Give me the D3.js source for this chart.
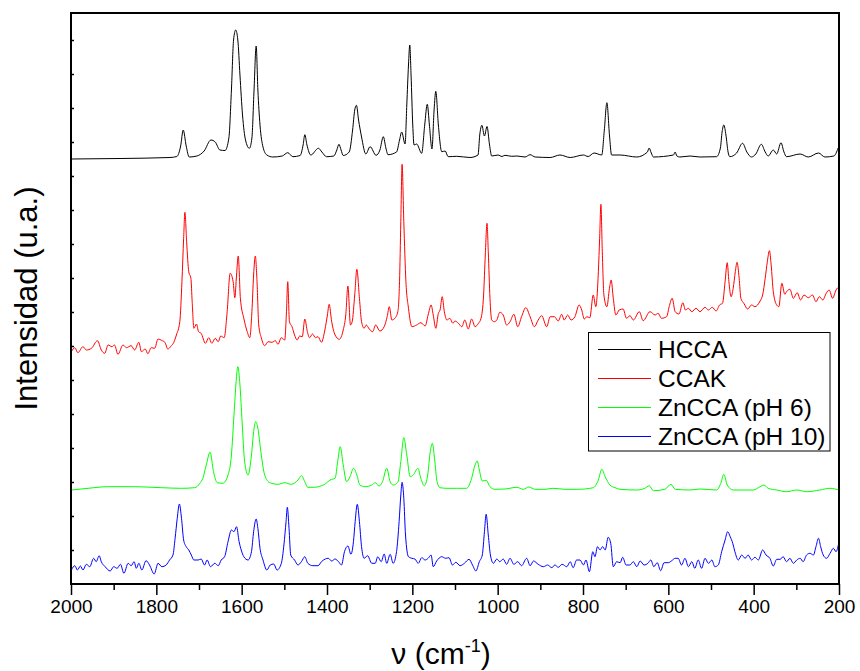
<!DOCTYPE html>
<html><head><meta charset="utf-8">
<script src="https://cdn.jsdelivr.net/npm/d3@7"></script>
<style>body{margin:0;background:#fff}</style>
</head><body>
<svg id="chart" width="860" height="671"></svg>
<script>
// ---- tick labels ----
const xTickLabels = [2000,1800,1600,1400,1200,1000,800,600,400,200];
const xMinorTicks = [1900,1700,1500,1300,1100,900,700,500,300];
const yTicks = [34,68,102,136,170,204,238,272,306,340,374,408,442,476,510,544];

// ---- series ----
const seriesNames = ["HCCA","CCAK","ZnCCA (pH 6)","ZnCCA (pH 10)"];
const seriesColors = ["#000000","#ff0000","#00ff00","#0000ff"];

// [wavenumber cm-1, intensity a.u. (offset)]
const hcca = [[2000,425],[1885,425.5],[1768,426.5],[1752,427.5],[1743,438],[1737,454],[1730,438],[1723,427],[1705,428],[1688,433],[1672,444],[1662,442],[1651,434],[1639,433.5],[1630,446],[1624,494],[1619,544],[1614,554],[1609,544],[1604,509],[1598,469],[1591,444],[1582,435.7],[1576,446],[1571,494],[1566,538],[1562,494],[1557,459],[1550,437],[1541,429],[1527,427],[1505,428],[1492,431.3],[1480,427.3],[1463,428.5],[1456,439],[1452,449.3],[1447,439],[1438,429],[1420,435.7],[1412,432],[1401,427.3],[1384,428],[1377,434],[1372,439.7],[1367,434],[1362,428.5],[1348,432],[1340,454],[1335,474],[1331,478.7],[1326,464],[1319,447],[1309,430],[1299,437.3],[1285,428.7],[1276,434],[1268,447.3],[1262,436],[1257,429.3],[1237,432],[1230,444],[1225,452],[1217,440],[1213,479],[1209,519],[1206,539],[1203,509],[1199,459],[1196,439],[1190,440],[1178,430.7],[1171,459],[1165,479.7],[1160,459],[1154,435],[1149,474],[1145,492.7],[1139,459],[1131,432.3],[1123,433],[1116,427.3],[1096,427.7],[1065,426.5],[1046,429],[1042,449],[1037,458.7],[1031,448],[1025,457.5],[1019,439],[1014,428],[999,429],[990,427.5],[983,428.7],[967,427.7],[955,428],[936,427],[924,429.3],[912,427],[877,426.5],[854,429],[830,426.5],[799,429],[788,427.5],[774,431],[756,429],[750,454],[744,481.3],[738,449],[733,429],[713,429],[674,427],[649,432],[645,436],[640,431],[635,427],[588,429],[584,432],[580,428],[573,427],[549,428],[526,427],[487,427.3],[478,436],[474,452],[470,459],[465,449],[460,432],[456,427.3],[440,431],[426,440.7],[416,432],[405,427],[395,430],[382,439.7],[373,432],[366,428],[354,434],[346,430],[336,441.3],[329,432],[323,427.3],[291,430],[272,427],[248,431],[233,427],[212,428],[202,436]];

const ccak = [[1999,232.3],[1991,236.3],[1984,231.3],[1972,237.3],[1964,234],[1952,235.7],[1938,243.3],[1929,234],[1921,230.7],[1913,239],[1904,237.3],[1898,239],[1890,229.7],[1878,239],[1870,236.3],[1859,238.3],[1851,234],[1841,241.7],[1835,232.3],[1826,235],[1820,230.3],[1812,236.3],[1804,235.7],[1796,245],[1788,243.7],[1780,241.7],[1773,235],[1766,237.7],[1759,241.7],[1753,249],[1745,262.3],[1740,302.3],[1736,345.7],[1733,371.7],[1729,342.3],[1724,312.3],[1719,305.7],[1716,282.3],[1712,255.7],[1706,260],[1701,252.3],[1695,250.7],[1685,240.7],[1677,246.3],[1670,240.7],[1662,245.7],[1655,242.3],[1649,248],[1641,246.3],[1634,272.3],[1627,310.7],[1620,302.3],[1616,286.3],[1612,309],[1608,328],[1603,285.7],[1595,265.7],[1587,252.3],[1581,246.3],[1576,272.3],[1572,309],[1568,328],[1564,302.3],[1560,259],[1554,246.3],[1546,238.3],[1538,242.3],[1529,241.7],[1521,243.3],[1515,239.7],[1507,246.3],[1499,244],[1495,272.3],[1492,302.3],[1488,262.3],[1482,257.3],[1476,249],[1470,244],[1464,248],[1458,247.3],[1452,265],[1446,252.3],[1441,246.3],[1434,250],[1427,246.3],[1421,247.3],[1413,241.7],[1405,254],[1399,269],[1395,279.7],[1389,262.3],[1381,249],[1371,244.7],[1362,254],[1356,269],[1351,298],[1345,259],[1341,262.3],[1335,289],[1330,314.7],[1324,285.7],[1319,262.3],[1313,255.7],[1308,259],[1301,255],[1293,252.3],[1286,259],[1276,253],[1266,257.3],[1259,267.3],[1254,277.3],[1248,264],[1241,265.7],[1234,272.3],[1230,302.3],[1227,362.3],[1224,419.7],[1220,362.3],[1215,302.3],[1209,275.7],[1201,257.3],[1190,259],[1180,261.3],[1170,258],[1163,269],[1156,279],[1151,269],[1145,255.7],[1139,270.7],[1135,274],[1130,287.3],[1125,272.3],[1119,264],[1112,265.7],[1105,260.7],[1100,263],[1092,260.7],[1084,257.3],[1077,264],[1069,255],[1061,265],[1053,257.3],[1045,260.7],[1039,265.7],[1033,289],[1029,329],[1025,360.7],[1022,332.3],[1018,285.7],[1014,264],[1008,262.3],[1002,264],[995,271.7],[987,269],[979,259],[971,262.3],[962,269.7],[953,257.3],[944,267.3],[934,276.3],[924,267.3],[914,257.3],[905,264],[897,268.3],[885,257.3],[877,267.3],[867,267.3],[858,263],[850,269.7],[844,264],[836,269],[828,264],[819,267.3],[809,279],[803,274],[797,265],[791,267.3],[784,266.3],[776,289],[770,277.3],[764,312.3],[761,345.7],[758,379.7],[755,335.7],[751,289],[744,277.3],[738,295.7],[734,304],[729,285.7],[723,269],[715,274],[706,275],[698,265.7],[690,268.3],[682,264],[668,272.3],[659,263.3],[643,272.3],[631,269],[624,270.7],[616,265.7],[604,267.3],[598,277.3],[591,285.7],[584,272.3],[575,270],[566,281.3],[560,274],[553,275.7],[545,272.3],[535,275.7],[526,272.3],[514,276.7],[506,274],[497,276.7],[488,273],[480,279],[473,280.7],[467,302.3],[462,321.3],[458,302.3],[453,287.3],[448,295.7],[443,312.3],[439,321.7],[434,305.7],[430,285.7],[423,280.7],[414,275],[405,279],[397,277.3],[385,283],[379,289],[373,305.7],[368,322.3],[363,333.3],[359,319],[354,292.3],[346,279],[341,277.3],[334,300.7],[327,289.7],[323,292.3],[315,294.7],[307,285.7],[298,291.3],[290,284],[282,289],[272,286.3],[262,289],[254,282.3],[246,287.3],[238,284],[230,290.7],[223,294],[215,285.7],[207,294],[200,297.3]];

const zncca6 = [[1999,94],[1960,95.7],[1913,97.3],[1851,97.3],[1788,96.3],[1741,95.7],[1710,96.3],[1698,100.7],[1691,105.7],[1683,119],[1674,131.7],[1666,112.3],[1657,101.3],[1644,100.7],[1632,109],[1624,129],[1618,169],[1613,202.3],[1609,217.3],[1604,199],[1599,162.3],[1593,122.3],[1585,109],[1577,129],[1572,152.3],[1567,162.3],[1562,155.7],[1555,132.3],[1546,109],[1534,101.3],[1515,99.7],[1499,101.3],[1484,99.7],[1468,104],[1460,108.3],[1452,102.3],[1445,96.7],[1429,96.7],[1413,98.3],[1405,99.7],[1393,104],[1381,105.7],[1375,122.3],[1369,137.3],[1362,119],[1354,102.3],[1346,107.3],[1338,115.7],[1330,109],[1323,99],[1311,97.3],[1295,99],[1287,101.3],[1278,98],[1270,102.3],[1260,115.7],[1252,102.3],[1245,99],[1234,101.7],[1227,122.3],[1220,146.3],[1213,129],[1205,107.3],[1198,109],[1187,115.7],[1180,105.7],[1172,98.3],[1164,109],[1158,132.3],[1153,140.7],[1148,125.7],[1142,102.3],[1135,96.3],[1119,95.7],[1096,95.7],[1073,95.7],[1061,105.7],[1053,119],[1048,123],[1043,114],[1036,103],[1027,103.7],[1018,97.3],[1006,94.7],[983,95],[955,96.7],[940,94.7],[927,97],[912,94.7],[889,94.7],[870,95.7],[842,94.7],[811,94.7],[776,96.3],[764,104],[756,114.7],[748,107.3],[737,99],[725,96.3],[713,94.7],[674,94],[655,95.7],[645,98.3],[635,93.3],[608,94.7],[594,99.7],[584,94.7],[549,94],[526,95],[487,94],[477,100.7],[470,109.7],[462,99],[448,94],[401,94],[385,97.3],[376,99],[366,95.7],[346,94],[323,92.3],[299,94],[276,92.3],[245,94],[221,95.7],[200,94]];

const zncca10 = [[1999,14],[1991,18.3],[1985,14],[1978,18],[1972,14],[1964,19.7],[1956,17.3],[1947,25.7],[1941,22.3],[1934,28.3],[1929,22.3],[1920,17.3],[1908,13],[1900,17.3],[1892,15.7],[1884,19.7],[1876,10.7],[1866,20.7],[1859,18.3],[1852,22.3],[1847,15.7],[1841,20.7],[1834,14],[1824,23.3],[1816,19],[1805,10],[1796,20.7],[1787,17.3],[1777,19],[1769,24],[1761,29],[1756,45.7],[1751,65.7],[1746,80],[1741,65.7],[1736,44],[1730,37.3],[1724,34],[1718,29],[1712,24],[1702,24],[1695,25],[1687,19],[1681,24],[1673,17.3],[1663,20.7],[1655,18.3],[1648,24],[1640,27.3],[1632,42.3],[1624,54],[1618,52.3],[1612,57.3],[1606,42.3],[1601,34],[1595,27.3],[1585,24],[1577,32.3],[1572,52.3],[1566,65],[1562,55.7],[1557,35.7],[1550,24],[1541,14],[1533,19],[1525,20],[1517,14],[1507,20.7],[1501,39],[1496,62.3],[1493,76.7],[1489,55.7],[1485,29],[1476,24],[1468,19],[1460,22.3],[1452,27.3],[1445,20.7],[1433,18.3],[1421,18.3],[1413,22.3],[1404,25],[1397,25.7],[1389,23],[1381,25],[1373,22.3],[1366,19],[1359,32.3],[1351,38],[1344,29.7],[1338,42.3],[1334,62.3],[1329,79.7],[1324,62.3],[1319,37.3],[1313,25.7],[1305,28.3],[1295,20.7],[1287,20.7],[1281,27.3],[1273,22.3],[1266,30],[1260,20.7],[1252,29.7],[1245,20.7],[1237,32.3],[1231,62.3],[1227,89],[1224,101.7],[1220,85.7],[1216,49],[1209,27.3],[1201,25.7],[1194,25],[1186,20.7],[1178,26.3],[1170,24],[1163,25.7],[1156,29],[1151,17.3],[1143,23],[1131,27.3],[1122,25.7],[1114,26.3],[1106,19],[1098,21.7],[1088,18.3],[1078,20.7],[1067,24.7],[1059,19],[1051,13],[1043,22.3],[1036,29],[1031,52.3],[1027,69.7],[1022,49],[1017,29],[1010,20.7],[1002,25],[995,22.3],[987,25],[979,19.7],[971,25.7],[962,19.7],[953,22.3],[944,18.3],[932,25.7],[924,18.3],[916,23],[905,19.7],[893,17.3],[883,19],[873,16.3],[866,19],[858,16.7],[849,19.7],[838,17.3],[830,22.3],[823,16.3],[815,24],[807,24],[799,19],[793,24],[785,12.3],[777,32.3],[772,27.3],[766,37.3],[760,34],[754,37.3],[748,34],[741,46.7],[735,40.7],[729,17.3],[721,22.3],[713,21.3],[707,26.7],[699,19],[690,19],[682,22.3],[674,17.3],[666,23],[657,19],[648,20.7],[641,24],[634,17.3],[626,21.3],[618,13.3],[610,21.3],[600,21.3],[592,23.3],[584,25.7],[577,25.7],[569,19],[561,25.7],[553,17.3],[545,22.3],[538,15.7],[530,24],[522,15.7],[514,25.7],[506,20.7],[498,24],[491,17.3],[483,19],[475,32.3],[467,44],[461,52.3],[455,47.3],[449,40.7],[444,32.3],[436,24],[428,29],[420,25.7],[413,29],[405,24],[397,26.7],[389,24],[379,34],[371,29],[362,25.7],[354,18],[346,24.7],[338,24.7],[331,27.3],[323,22.3],[315,25.7],[307,20.7],[299,24],[291,25.7],[284,22.3],[276,29],[268,30.7],[260,29],[254,37.3],[248,45.7],[243,37.3],[237,29],[229,25.7],[221,30.7],[213,35.7],[207,32.3],[200,42.3]];

const seriesData = [hcca, ccak, zncca6, zncca10];

// ---- layout ----
const L = 71, R = 839, T = 13, B = 584;
const FONT = "'Liberation Sans', Arial, Helvetica, sans-serif";
const svg = d3.select("#chart");

const x = d3.scaleLinear().domain([2000, 200]).range([L, R]);
const y = d3.scaleLinear().domain([0, 571]).range([B, T]);

svg.append("defs").append("clipPath").attr("id","clip")
  .append("rect").attr("x",L).attr("y",T).attr("width",R-L).attr("height",B-T);

const line = d3.line().x(d => x(d[0])).y(d => y(d[1])).curve(d3.curveMonotoneX);

const g = svg.append("g").attr("clip-path","url(#clip)");
seriesData.forEach((s,i) => {
  g.append("path").datum(s).attr("d", line)
    .attr("fill","none").attr("stroke", seriesColors[i]).attr("stroke-width", 1);
});

// x axis major
const xAxis = svg.append("g").attr("transform",`translate(0,${B})`)
  .call(d3.axisBottom(x).tickValues(xTickLabels).tickSize(11).tickPadding(5).tickFormat(d3.format("d")));
xAxis.select(".domain").remove();
xAxis.selectAll("line").attr("stroke","#000").attr("stroke-width",1.5);
xAxis.selectAll("text").attr("font-family",FONT).attr("font-size",19).attr("fill","#000");

const xMinor = svg.append("g").attr("transform",`translate(0,${B})`)
  .call(d3.axisBottom(x).tickValues(xMinorTicks).tickSize(6).tickFormat(""));
xMinor.select(".domain").remove();
xMinor.selectAll("line").attr("stroke","#000").attr("stroke-width",1.5);

// y axis (inward ticks, no labels)
const yAxis = svg.append("g").attr("transform",`translate(${L},0)`)
  .call(d3.axisRight(y).tickValues(yTicks).tickSize(3).tickFormat(""));
yAxis.select(".domain").remove();
yAxis.selectAll("line").attr("stroke","#000").attr("stroke-width",1.5);

// frame
svg.append("rect").attr("x",L).attr("y",T).attr("width",R-L).attr("height",B-T)
  .attr("fill","none").attr("stroke","#000").attr("stroke-width",2);

// axis titles
const xt = svg.append("text").attr("x",441).attr("y",664).attr("text-anchor","middle")
  .attr("font-family",FONT).attr("font-size",30).attr("fill","#000");
xt.append("tspan").text("\u03BD (cm");
xt.append("tspan").attr("font-size",18).attr("dy",-12).text("-1");
xt.append("tspan").attr("dy",12).text(")");

svg.append("text").attr("transform",`translate(37,${(T+B)/2}) rotate(-90)`)
  .attr("text-anchor","middle").attr("font-family",FONT).attr("font-size",31).attr("fill","#000")
  .text("Intensidad (u.a.)");

// legend
const lg = svg.append("g");
lg.append("rect").attr("x",588.5).attr("y",332.5).attr("width",241.5).attr("height",118.5)
  .attr("fill","#fff").attr("stroke","#000").attr("stroke-width",1);
seriesNames.forEach((n,i) => {
  const cy = 349.5 + i*29;
  lg.append("line").attr("x1",598).attr("x2",651).attr("y1",cy).attr("y2",cy)
    .attr("stroke",seriesColors[i]).attr("stroke-width",1);
  lg.append("text").attr("x",658).attr("y",cy+8.5).attr("font-family",FONT).attr("font-size",24.5)
    .attr("fill","#000").text(n);
});
</script>
</body></html>
